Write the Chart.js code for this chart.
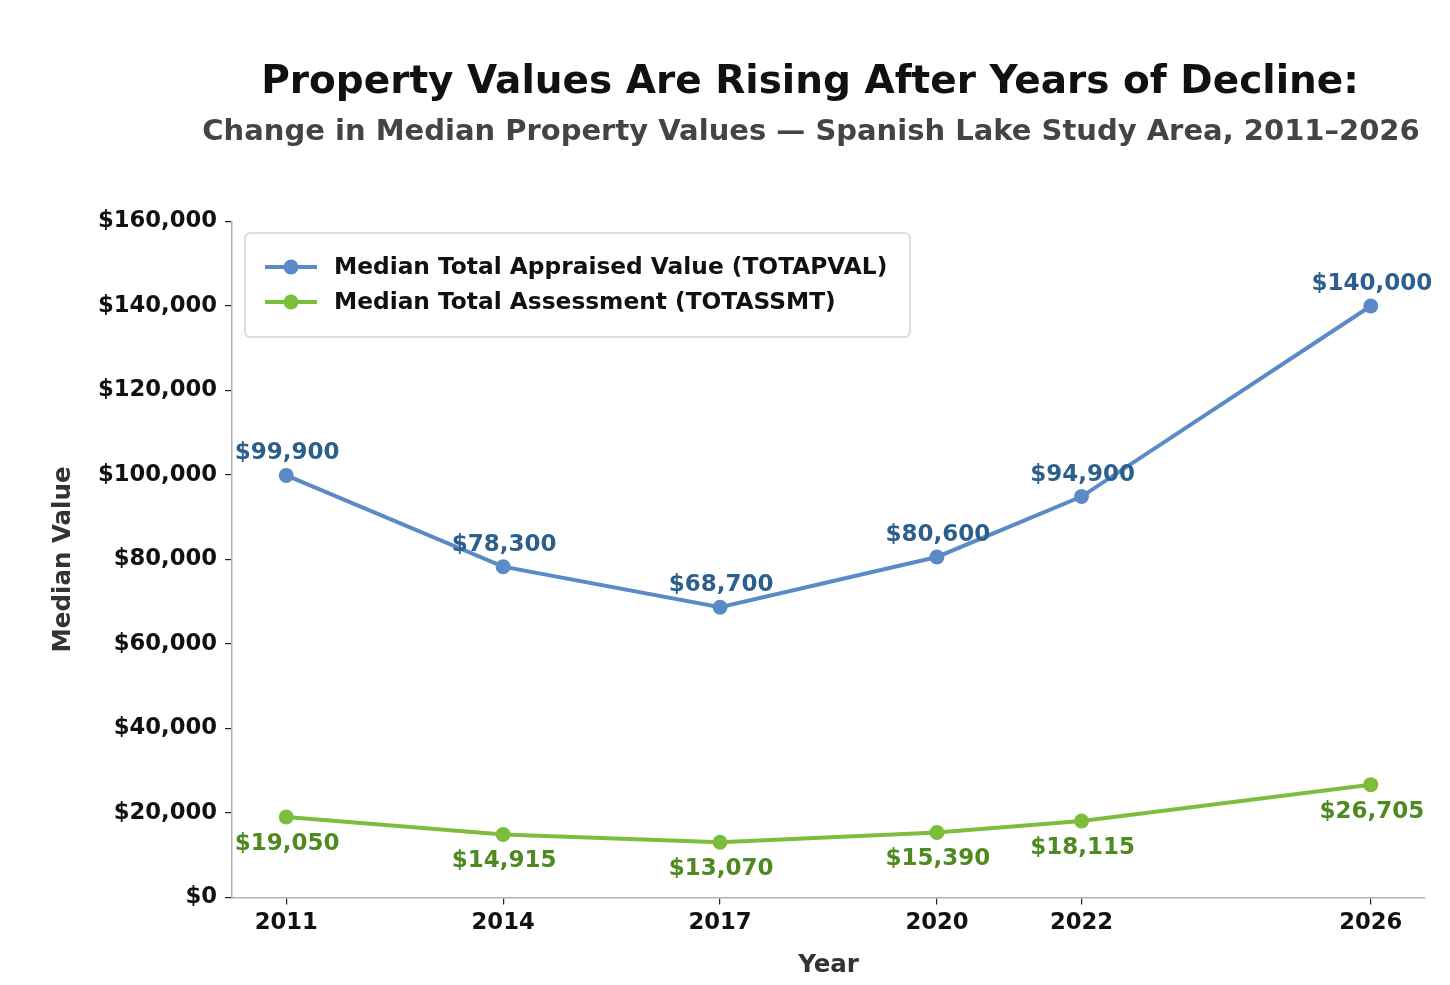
<!DOCTYPE html>
<html>
<head>
<meta charset="utf-8">
<script src="https://cdn.jsdelivr.net/npm/chart.js@4.4.1/dist/chart.umd.min.js"></script>
<style>
  html, body { margin: 0; padding: 0; background: #ffffff; }
  canvas { display: block; }
</style>
</head>
<body>
<canvas id="c" width="1450" height="985"></canvas>
<script>
const years = [2011, 2014, 2017, 2020, 2022, 2026];
const appraisedValues = [99900, 78300, 68700, 80600, 94900, 140000];
const assessmentValues = [19050, 14915, 13070, 15390, 18115, 26705];
const yTicks = [0, 20000, 40000, 60000, 80000, 100000, 120000, 140000, 160000];
const seriesNames = ['Median Total Appraised Value (TOTAPVAL)', 'Median Total Assessment (TOTASSMT)'];
const titleText = 'Property Values Are Rising After Years of Decline:';
const subtitleText = 'Change in Median Property Values \u2014 Spanish Lake Study Area, 2011\u20132026';

const FONT = '"DejaVu Sans", "Liberation Sans", sans-serif';
const BLUE = '#5b8bc6';
const GREEN = '#7dbd3c';
const BLUE_LABEL = '#2d5f8e';
const GREEN_LABEL = '#4f8a20';

const fmt = v => '$' + v.toLocaleString('en-US');

const titlePlugin = {
  id: 'titles',
  afterDraw(chart) {
    const ctx = chart.ctx;
    ctx.save();
    ctx.textAlign = 'center';
    ctx.textBaseline = 'middle';
    ctx.fillStyle = '#111111';
    ctx.font = 'bold 39px ' + FONT;
    ctx.fillText(titleText, 810, 83);
    ctx.fillStyle = '#444444';
    ctx.font = 'bold 29px ' + FONT;
    ctx.fillText(subtitleText, 811, 132);
    ctx.restore();
  }
};

const labelPlugin = {
  id: 'pointLabels',
  afterDatasetsDraw(chart) {
    const ctx = chart.ctx;
    ctx.save();
    ctx.font = 'bold 23px ' + FONT;
    ctx.textAlign = 'center';
    ctx.textBaseline = 'middle';
    chart.data.datasets.forEach((ds, i) => {
      const meta = chart.getDatasetMeta(i);
      meta.data.forEach((pt, j) => {
        const v = ds.data[j].y;
        if (i === 0) {
          ctx.fillStyle = BLUE_LABEL;
          ctx.fillText(fmt(v), pt.x + 1, pt.y - 22);
        } else {
          ctx.fillStyle = GREEN_LABEL;
          ctx.fillText(fmt(v), pt.x + 1, pt.y + 27);
        }
      });
    });
    ctx.restore();
  }
};

const legendPlugin = {
  id: 'boxLegend',
  afterDraw(chart) {
    const ctx = chart.ctx;
    const ca = chart.chartArea;
    const x0 = ca.left + 13, y0 = ca.top + 11.5, w = 665, h = 104, r = 5;
    ctx.save();
    ctx.fillStyle = 'rgba(255,255,255,0.9)';
    ctx.strokeStyle = '#d4d4d4';
    ctx.lineWidth = 1.5;
    ctx.beginPath();
    ctx.roundRect(x0, y0, w, h, r);
    ctx.fill();
    ctx.stroke();
    chart.data.datasets.forEach((ds, i) => {
      const cy = y0 + 34 + i * 35;
      ctx.strokeStyle = ds.borderColor;
      ctx.lineWidth = 4;
      ctx.beginPath();
      ctx.moveTo(x0 + 20, cy);
      ctx.lineTo(x0 + 72, cy);
      ctx.stroke();
      ctx.fillStyle = ds.borderColor;
      ctx.beginPath();
      ctx.arc(x0 + 46, cy, 7.5, 0, Math.PI * 2);
      ctx.fill();
      ctx.fillStyle = '#111111';
      ctx.font = 'bold 23.3px ' + FONT;
      ctx.textAlign = 'left';
      ctx.textBaseline = 'middle';
      ctx.fillText(ds.label, x0 + 89, cy + 1);
    });
    ctx.restore();
  }
};

new Chart(document.getElementById('c'), {
  type: 'line',
  data: {
    datasets: [
      {
        label: seriesNames[0],
        data: years.map((y, i) => ({ x: y, y: appraisedValues[i] })),
        borderColor: BLUE,
        backgroundColor: BLUE,
        borderWidth: 4,
        pointRadius: 7.5,
        pointHoverRadius: 7.5,
        pointBackgroundColor: BLUE,
        pointBorderWidth: 0,
        tension: 0
      },
      {
        label: seriesNames[1],
        data: years.map((y, i) => ({ x: y, y: assessmentValues[i] })),
        borderColor: GREEN,
        backgroundColor: GREEN,
        borderWidth: 4,
        pointRadius: 7.5,
        pointHoverRadius: 7.5,
        pointBackgroundColor: GREEN,
        pointBorderWidth: 0,
        tension: 0
      }
    ]
  },
  options: {
    responsive: false,
    animation: false,
    devicePixelRatio: 1,
    layout: { padding: { top: 221.5, right: 25, bottom: 0, left: 0 } },
    plugins: {
      legend: { display: false },
      title: { display: false },
      tooltip: { enabled: false }
    },
    scales: {
      x: {
        type: 'linear',
        min: 2010.25,
        max: 2026.75,
        afterBuildTicks: (scale) => { scale.ticks = years.map(v => ({ value: v })); },
        afterFit: (scale) => { scale.height = 87.5; },
        ticks: {
          autoSkip: false,
          maxRotation: 0,
          padding: 5,
          color: '#111111',
          font: { family: FONT, size: 22.7, weight: 'bold' },
          callback: (v) => String(v)
        },
        grid: { drawOnChartArea: false, drawTicks: true, tickLength: 7, color: '#222222', lineWidth: 1.2 },
        border: { display: true, color: '#b0b0b0', width: 1.5 },
        title: {
          display: true,
          text: 'Year',
          color: '#333333',
          font: { family: FONT, size: 24.5, weight: 'bold' },
          padding: { top: 0, bottom: 4.5 }
        }
      },
      y: {
        type: 'linear',
        min: 0,
        max: 160000,
        afterBuildTicks: (scale) => { scale.ticks = yTicks.map(v => ({ value: v })); },
        afterFit: (scale) => { scale.width = 232; },
        ticks: {
          padding: 8,
          color: '#111111',
          font: { family: FONT, size: 22.7, weight: 'bold' },
          callback: (v) => fmt(v)
        },
        grid: { drawOnChartArea: false, drawTicks: true, tickLength: 7, color: '#222222', lineWidth: 1.2 },
        border: { display: true, color: '#b0b0b0', width: 1.5 },
        title: {
          display: true,
          text: 'Median Value',
          color: '#333333',
          font: { family: FONT, size: 24.5, weight: 'bold' },
          padding: { top: 49, bottom: 0 }
        }
      }
    }
  },
  plugins: [labelPlugin, legendPlugin, titlePlugin]
});
</script>
</body>
</html>
